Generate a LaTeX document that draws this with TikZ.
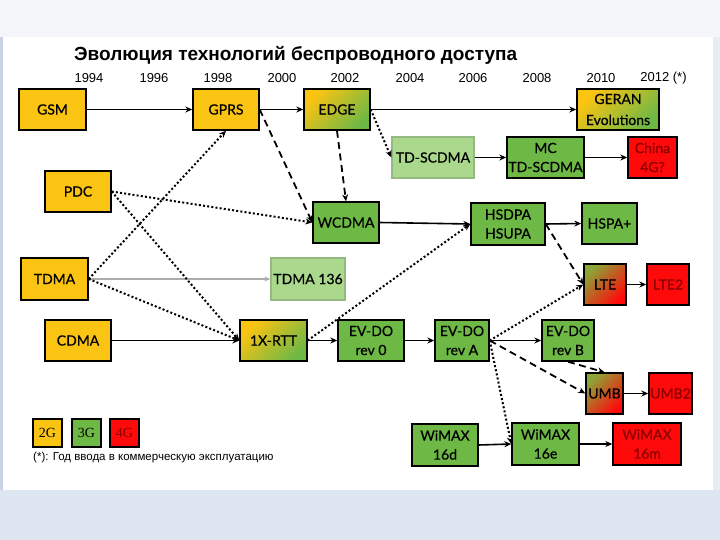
\documentclass[tikz,border=0pt]{standalone}
\usepackage{fontspec}
\setmainfont{Liberation Sans}
\newfontfamily\nodefont[FakeBold=0.6]{Lato}
\newfontfamily\serfont{Liberation Serif}
\usetikzlibrary{arrows.meta}
\definecolor{yel}{RGB}{252,196,18}
\definecolor{grn}{RGB}{110,184,70}
\definecolor{lgrn}{RGB}{170,216,140}
\definecolor{lbord}{RGB}{150,185,130}
\definecolor{rd}{RGB}{255,10,10}
\definecolor{drd}{RGB}{140,0,0}
\definecolor{olv}{RGB}{140,165,55}
\definecolor{topbg}{RGB}{245,246,250}
\definecolor{botbg}{RGB}{222,230,241}
\definecolor{sidebg}{RGB}{232,236,243}
\definecolor{edgeln}{RGB}{200,210,228}
\begin{document}
\begin{tikzpicture}[x=1pt,y=-1pt,
  box/.style={draw=black, line width=1.4pt, inner sep=0pt, align=center,
    font=\nodefont\fontsize{14}{19}\selectfont, minimum height=41pt},
  c2/.style={box, fill=yel},
  c3/.style={box, fill=grn},
  c3l/.style={box, fill=lgrn, draw=lbord},
  c4/.style={box, fill=rd, text=drd},
  c23/.style={box, top color=yel, bottom color=grn, shading angle=45},
  c34/.style={box, top color=olv, bottom color=rd, shading angle=45},
  year/.style={inner sep=0pt, font=\fontsize{13}{15}\selectfont},
  leg/.style={draw=black, line width=1.2pt, inner sep=0pt, minimum width=29pt,
    minimum height=28pt, font=\serfont\fontsize{14}{16}\selectfont},
  sol/.style={line width=1.6pt, -{Stealth[length=7pt,width=6pt]}},
  dotar/.style={line width=2pt, dash pattern=on 2pt off 2.2pt, -{Stealth[length=7pt,width=6pt]}},
  dsh/.style={line width=1.8pt, dash pattern=on 7pt off 4.5pt, -{Stealth[length=7pt,width=6pt]}},
  grayar/.style={line width=2.2pt, draw=gray!65, -{Stealth[length=6pt,width=5pt]}}
]
% background
\useasboundingbox (0,0) rectangle (720,540);
\fill[topbg] (0,0) rectangle (720,540);
\fill[white] (3,37) rectangle (713,490);
\fill[botbg] (0,490) rectangle (720,540);
\fill[sidebg] (713,37) rectangle (720,490);
\fill[edgeln] (0,37) rectangle (3,490);

% title and years
\node[anchor=base west, inner sep=0pt, font=\bfseries\fontsize{19}{22}\selectfont] (title) at (74,61) {Эволюция технологий беспроводного доступа};
\node[year] (y94) at (89,78) {1994};
\node[year] (y96) at (154,78) {1996};
\node[year] (y98) at (218,78) {1998};
\node[year] (y00) at (282,78) {2000};
\node[year] (y02) at (345,78) {2002};
\node[year] (y04) at (410,78) {2004};
\node[year] (y06) at (473,78) {2006};
\node[year] (y08) at (537,78) {2008};
\node[year] (y10) at (601,78) {2010};
\node[year] (y12) at (663.5,78) {2012 (*)};

% nodes
\node[c2, minimum width=67pt] (gsm) at (52.5,109.5) {GSM};
\node[c2, minimum width=66pt] (gprs) at (226,109.5) {GPRS};
\node[c23, minimum width=66pt] (edge) at (337,109.5) {EDGE};
\node[c23, minimum width=82pt, font=\nodefont\fontsize{14}{21}\selectfont] (geran) at (618,109.5) {GERAN\\Evolutions};
\node[c2, minimum width=66pt] (pdc) at (78,191.5) {PDC};
\node[c3l, minimum width=82pt] (tds) at (433,157.5) {TD-SCDMA};
\node[c3, minimum width=77pt] (mctds) at (545.5,157.5) {MC\\TD-SCDMA};
\node[c4, minimum width=49pt] (china) at (652.5,157.5) {China\\4G?};
\node[c3, minimum width=66pt] (wcdma) at (346,222.5) {WCDMA};
\node[c3, minimum width=74pt, minimum height=42pt] (hsdpa) at (508,224) {HSDPA\\HSUPA};
\node[c3, minimum width=55pt] (hspap) at (609.5,223.5) {HSPA+};
\node[c2, minimum width=67pt, minimum height=42pt] (tdma) at (54.5,279) {TDMA};
\node[c3l, minimum width=74pt, minimum height=42pt] (tdma136) at (308,279) {TDMA 136};
\node[c2, minimum width=66pt] (cdma) at (78,340.5) {CDMA};
\node[c23, minimum width=67pt] (rtt) at (273.5,340.5) {1X-RTT};
\node[c3, minimum width=66pt] (rev0) at (371,340.5) {EV-DO\\rev 0};
\node[c3, minimum width=54pt] (reva) at (462,340.5) {EV-DO\\rev A};
\node[c3, minimum width=52pt] (revb) at (568,340.5) {EV-DO\\rev B};
\node[c34, minimum width=42pt] (lte) at (605,284.5) {LTE};
\node[c4, minimum width=42pt] (lte2) at (668,284.5) {LTE2};
\node[c34, minimum width=37pt] (umb) at (604.5,393.5) {UMB};
\node[c4, minimum width=43pt] (umb2) at (670.5,393.5) {UMB2};
\node[c3, minimum width=66pt, minimum height=42pt] (w16d) at (445,445) {WiMAX\\16d};
\node[c3, minimum width=67pt, minimum height=42pt] (w16e) at (545.5,444) {WiMAX\\16e};
\node[c4, minimum width=68pt, minimum height=42pt] (w16m) at (647,444) {WiMAX\\16m};

% legend
\node[leg, fill=yel] (l2g) at (47.5,433) {2G};
\node[leg, fill=grn] (l3g) at (86.5,433) {3G};
\node[leg, fill=rd, text=drd] (l4g) at (124.5,433) {4G};
\node[anchor=west, inner sep=0pt, font=\fontsize{11.5}{13}\selectfont] (note) at (33,458) {(*): Год ввода в коммерческую эксплуатацию};

% connectors
\draw[sol] (gsm.east) -- (gprs.west);
\draw[sol] (gprs.east) -- (edge.west);
\draw[sol] (edge.east) -- (geran.west);
\draw[sol] (tds.east) -- (mctds.west);
\draw[sol] (mctds.east) -- (china.west);
\draw[sol] (wcdma.east) -- (hsdpa.west);
\draw[sol] (hsdpa.east) -- (hspap.west);
\draw[sol] (cdma.east) -- (rtt.west);
\draw[sol] (rtt.east) -- (rev0.west);
\draw[sol] (rev0.east) -- (reva.west);
\draw[sol] (reva.east) -- (revb.west);
\draw[sol] (lte.east) -- (lte2.west);
\draw[sol] (umb.east) -- (umb2.west);
\draw[sol] (w16d.east) -- (w16e.west);
\draw[sol] (w16e.east) -- (w16m.west);
\draw[grayar] (tdma.east) -- (tdma136.west);

\draw[dsh] (gprs.east) -- (wcdma.west);
\draw[dsh] (edge.south) -- (wcdma.north);
\draw[dsh] (hsdpa.east) -- (lte.west);
\draw[dsh] (reva.east) -- (umb.west);
\draw[dsh] (revb.south) -- (umb.north);

\draw[dotar] (edge.east) -- (tds.west);
\draw[dotar] (pdc.east) -- (wcdma.west);
\draw[dotar] (pdc.east) -- (rtt.west);
\draw[dotar] (tdma.east) -- (gprs.south);
\draw[dotar] (tdma.east) -- (rtt.west);
\draw[dotar] (rtt.east) -- (hsdpa.west);
\draw[dotar] (reva.east) -- (lte.west);
\draw[dotar] (reva.east) -- (w16e.west);
\end{tikzpicture}
\end{document}
